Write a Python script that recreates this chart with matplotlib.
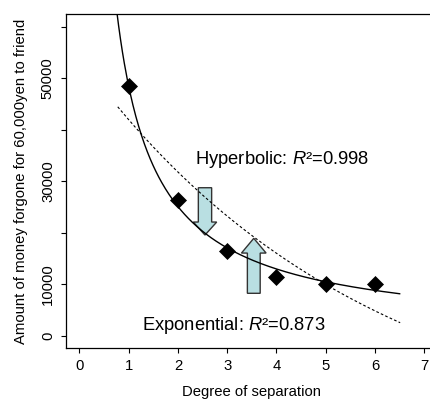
import matplotlib
matplotlib.use('Agg')
import matplotlib.pyplot as plt
import numpy as np
from matplotlib.patches import Polygon

plt.rcParams['font.family'] = ['Liberation Sans', 'DejaVu Sans']
plt.rcParams['mathtext.fontset'] = 'custom'
plt.rcParams['mathtext.rm'] = 'Liberation Sans'
plt.rcParams['mathtext.it'] = 'Liberation Sans:italic'

# Data points
separation = [1, 2, 3, 4, 5, 6]
money = [48500, 26400, 16500, 11400, 10000, 10000]

# Fitted curve parameters
hyp_a, hyp_p = 48560, 0.95              # y = a * x^-p
exp_a, exp_b, exp_c = 76485, 0.1718, -22408  # y = c + a*exp(-b x)

x_ticks = [0, 1, 2, 3, 4, 5, 6, 7]
y_ticks = [0, 10000, 20000, 30000, 40000, 50000, 60000]
y_tick_labels = ['0', '10000', '', '30000', '', '50000', '']

fig = plt.figure(figsize=(4.31, 4.05), dpi=100)
ax = fig.add_axes([0.152, 0.1398, 0.8645, 0.8244])
ax.set_xlim(-0.28, 7.28)
ax.set_ylim(-2400, 62400)

# arrows (light blue block arrows)
def arrow_poly(xc, sw, hw, y_tail, y_base, y_tip):
    return [(xc - sw / 2, y_tail), (xc - sw / 2, y_base), (xc - hw / 2, y_base),
            (xc, y_tip), (xc + hw / 2, y_base), (xc + sw / 2, y_base),
            (xc + sw / 2, y_tail)]

for verts in [arrow_poly(2.55, 0.27, 0.475, 28780, 22120, 19600),
              arrow_poly(3.54, 0.26, 0.50, 8290, 16100, 18960)]:
    ax.add_patch(Polygon(verts, closed=True, facecolor='#b9dfe2',
                         edgecolor='#333333', lw=1.0, zorder=2))

xh = np.linspace(0.7, 6.5, 300)
ax.plot(xh, hyp_a * xh ** (-hyp_p), color='black', lw=1.0, zorder=3)
xe = np.linspace(0.78, 6.51, 300)
ax.plot(xe, exp_c + exp_a * np.exp(-exp_b * xe), color='black', lw=0.8,
        dashes=(2.4, 2.0), zorder=3)

ax.plot(separation, money, linestyle='none', marker='D', ms=8.4,
        color='black', mec='black', mew=0.5, zorder=4)

ax.text(2.347, 33320, 'Hyperbolic: $R$\u00b2=0.998', fontsize=13.2,
        ha='left', va='baseline')
ax.text(1.266, 1164, 'Exponential: $R$\u00b2=0.873', fontsize=13.2,
        ha='left', va='baseline')

ax.set_xticks(x_ticks)
ax.set_xticklabels([str(v) for v in x_ticks])
ax.set_yticks(y_ticks)
ax.set_yticklabels(y_tick_labels)
for lab in ax.get_yticklabels():
    lab.set_rotation(90)
    lab.set_va('center')

ax.tick_params(direction='out', length=3.6, width=0.8, labelsize=10.7, pad=4)
ax.spines['right'].set_visible(False)
for s in ['left', 'top', 'bottom']:
    ax.spines[s].set_linewidth(0.9)

ax.set_xlabel('Degree of separation', fontsize=10.7)
ax.set_ylabel('Amount of money forgone for 60,000yen to friend', fontsize=10.7)
ax.xaxis.set_label_coords(0.5, -0.11)
ax.yaxis.set_label_coords(-0.102, 0.5)

fig.savefig('out.png', dpi=100)
